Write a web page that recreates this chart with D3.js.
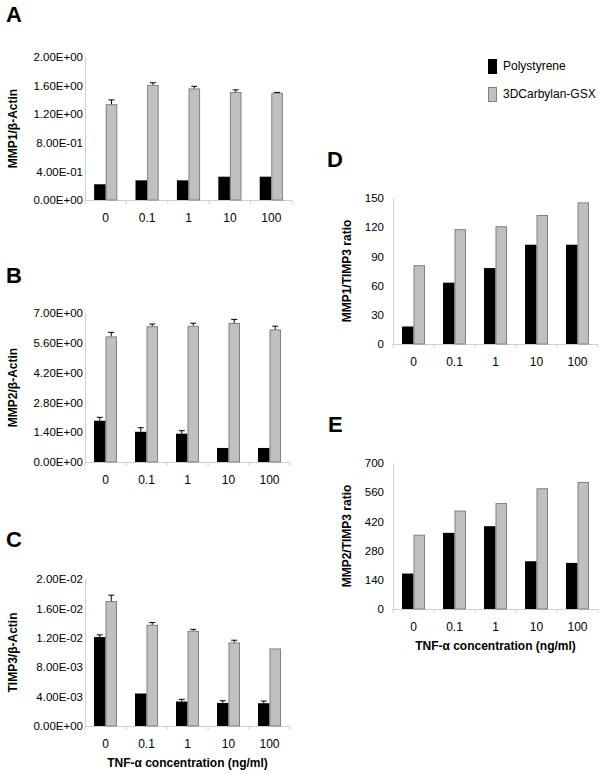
<!DOCTYPE html>
<html><head><meta charset="utf-8">
<script src="https://cdn.jsdelivr.net/npm/d3@7"></script>
<style>body{margin:0;background:#fff;} svg{display:block;font-family:"Liberation Sans",Arial,sans-serif;}</style>
</head><body>
<svg id="c" width="604" height="774"></svg>
<script>
const categories = ["0","0.1","1","10","100"];
const seriesNames = ["Polystyrene","3DCarbylan-GSX"];

// Panel A: MMP1/β-Actin
const mmp1Poly = [0.22,0.275,0.275,0.326,0.326];
const mmp1PolyErr = [0,0,0,0,0];
const mmp1Gsx = [1.34,1.61,1.56,1.51,1.50];
const mmp1GsxErr = [0.06,0.03,0.03,0.03,0.005];
const mmp1Ticks = [0,0.4,0.8,1.2,1.6,2.0];
const mmp1TickLabels = ["0.00E+00","4.00E-01","8.00E-01","1.20E+00","1.60E+00","2.00E+00"];

// Panel B: MMP2/β-Actin
const mmp2Poly = [1.94,1.42,1.33,0.66,0.66];
const mmp2PolyErr = [0.16,0.19,0.14,0,0];
const mmp2Gsx = [5.90,6.38,6.40,6.53,6.23];
const mmp2GsxErr = [0.19,0.10,0.12,0.17,0.15];
const mmp2Ticks = [0,1.4,2.8,4.2,5.6,7.0];
const mmp2TickLabels = ["0.00E+00","1.40E+00","2.80E+00","4.20E+00","5.60E+00","7.00E+00"];

// Panel C: TIMP3/β-Actin
const timp3Poly = [0.0121,0.00442,0.00333,0.00314,0.0031];
const timp3PolyErr = [0.0003,0,0.0003,0.0003,0.0003];
const timp3Gsx = [0.0170,0.01377,0.01295,0.01137,0.01055];
const timp3GsxErr = [0.0008,0.0003,0.0002,0.0003,0];
const timp3Ticks = [0,0.004,0.008,0.012,0.016,0.020];
const timp3TickLabels = ["0.00E+00","4.00E-03","8.00E-03","1.20E-02","1.60E-02","2.00E-02"];

// Panel D: MMP1/TIMP3 ratio
const ratio1Poly = [18,63,78,102,102];
const ratio1Gsx = [81,118,121,132.5,145.5];
const ratio1Ticks = [0,30,60,90,120,150];

// Panel E: MMP2/TIMP3 ratio
const ratio2Poly = [170,365,397,229,221];
const ratio2Gsx = [356,472,508,579,609];
const ratio2Ticks = [0,140,280,420,560,700];

const xTitle = "TNF-\u03b1 concentration (ng/ml)";

const svg = d3.select("#c");
const colors = ["#000000","#c0c0c0"];
const strokes = ["#000000","#808080"];

function panel(o){
  const g = svg.append("g");
  const x = d3.scaleBand().domain(categories).range([o.left,o.right]).paddingInner(0.44).paddingOuter(0.22);
  const xs = d3.scaleBand().domain([0,1]).range([0,x.bandwidth()]);
  const y = d3.scaleLinear().domain([o.ticks[0],o.ticks[o.ticks.length-1]]).range([o.bottom,o.top]);
  const yAx = d3.axisLeft(y).tickValues(o.ticks).tickSize(0).tickPadding(o.pad)
    .tickFormat((d,i)=>o.labels?o.labels[i]:d);
  const ya = g.append("g").attr("transform",`translate(${o.left},0)`).call(yAx);
  ya.select(".domain").attr("stroke","#d0d0d0");
  ya.selectAll("text").attr("font-size",11.5).attr("fill","#000").attr("font-family","Liberation Sans, Arial, sans-serif");
  const bounds = d3.range(categories.length+1).map(i=>o.left + i*(o.right-o.left)/categories.length);
  g.append("line").attr("x1",o.left).attr("x2",o.right).attr("y1",o.bottom+0.5).attr("y2",o.bottom+0.5).attr("stroke","#d0d0d0");
  g.selectAll(".xt").data(bounds).join("line").attr("x1",d=>d).attr("x2",d=>d).attr("y1",o.bottom).attr("y2",o.bottom+4).attr("stroke","#d0d0d0");
  g.selectAll(".xl").data(categories).join("text")
    .attr("x",d=>x(d)+x.bandwidth()/2).attr("y",o.bottom+22).attr("text-anchor","middle")
    .attr("font-size",12).text(d=>d);
  const series = [o.s1,o.s2];
  const errs = [o.e1,o.e2];
  series.forEach((vals,si)=>{
    g.selectAll(".b"+si).data(vals).join("rect")
      .attr("x",(d,i)=>x(categories[i])+xs(si)+(si?0.5:0))
      .attr("width",xs.bandwidth()-(si?1:0))
      .attr("y",d=>y(d)+(si?0.5:0))
      .attr("height",d=>o.bottom-y(d)-(si?0.5:0))
      .attr("fill",colors[si]).attr("stroke",si?strokes[si]:"none").attr("stroke-width",1);
    if(errs[si]){
      errs[si].forEach((e,i)=>{
        if(e<=0) return;
        const cx = x(categories[i])+xs(si)+xs.bandwidth()/2;
        g.append("line").attr("x1",cx).attr("x2",cx).attr("y1",y(vals[i])).attr("y2",y(vals[i]+e)).attr("stroke","#000");
        g.append("line").attr("x1",cx-3).attr("x2",cx+3).attr("y1",y(vals[i]+e)).attr("y2",y(vals[i]+e)).attr("stroke","#000");
      });
    }
  });
  g.append("text").attr("transform",`translate(${o.ytx},${(o.top+o.bottom)/2}) rotate(-90)`)
    .attr("text-anchor","middle").attr("dominant-baseline","central")
    .attr("font-size",12).attr("font-weight","bold").text(o.ytitle);
  g.append("text").attr("x",o.lx).attr("y",o.ly).attr("font-size",22).attr("font-weight","bold").text(o.letter);
  if(o.xtitle){
    g.append("text").attr("x",(o.left+o.right)/2).attr("y",o.bottom+41).attr("text-anchor","middle")
      .attr("font-size",12).attr("font-weight","bold").text(o.xtitle);
  }
}

panel({left:85,right:292,top:57,bottom:200,ticks:mmp1Ticks,labels:mmp1TickLabels,pad:2,s1:mmp1Poly,s2:mmp1Gsx,e1:mmp1PolyErr,e2:mmp1GsxErr,ytitle:"MMP1/\u03b2-Actin",ytx:13,letter:"A",lx:6,ly:22});
panel({left:85,right:290,top:313,bottom:462,ticks:mmp2Ticks,labels:mmp2TickLabels,pad:2,s1:mmp2Poly,s2:mmp2Gsx,e1:mmp2PolyErr,e2:mmp2GsxErr,ytitle:"MMP2/\u03b2-Actin",ytx:13,letter:"B",lx:6,ly:283});
panel({left:85,right:290,top:579,bottom:726,ticks:timp3Ticks,labels:timp3TickLabels,pad:2,s1:timp3Poly,s2:timp3Gsx,e1:timp3PolyErr,e2:timp3GsxErr,ytitle:"TIMP3/\u03b2-Actin",ytx:13,letter:"C",lx:6,ly:547,xtitle:xTitle});
panel({left:393,right:598,top:198,bottom:344,ticks:ratio1Ticks,pad:9,s1:ratio1Poly,s2:ratio1Gsx,ytitle:"MMP1/TIMP3 ratio",ytx:347,letter:"D",lx:327,ly:167});
panel({left:393,right:598,top:463,bottom:609,ticks:ratio2Ticks,pad:9,s1:ratio2Poly,s2:ratio2Gsx,ytitle:"MMP2/TIMP3 ratio",ytx:347,letter:"E",lx:328,ly:432,xtitle:xTitle});

const leg = svg.append("g");
seriesNames.forEach((n,i)=>{
  leg.append("rect").attr("x",488+(i?0.5:0)).attr("y",59+i*28+(i?0.5:0)).attr("width",i?8:9).attr("height",i?14:15)
    .attr("fill",colors[i]).attr("stroke",i?strokes[i]:"none");
  leg.append("text").attr("x",503).attr("y",66+i*28).attr("dominant-baseline","central").attr("font-size",12).text(n);
});
</script>
</body></html>
